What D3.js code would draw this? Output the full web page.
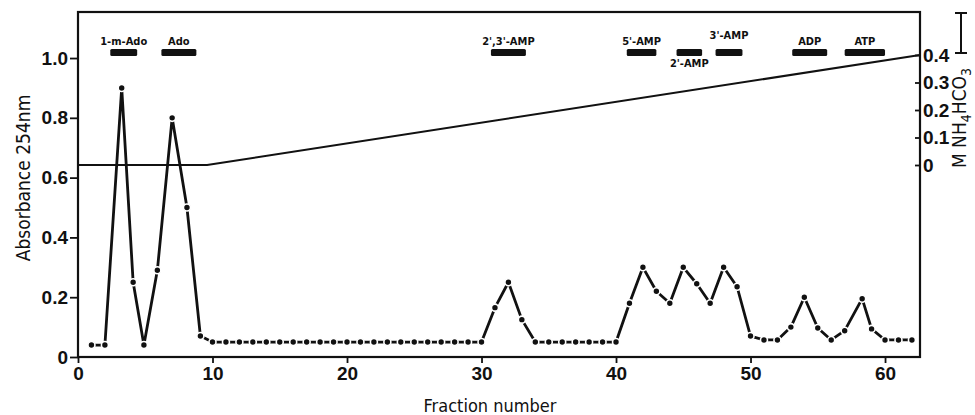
<!DOCTYPE html>
<html>
<head>
<meta charset="utf-8">
<script src="https://cdn.jsdelivr.net/npm/d3@7"></script>
<style>
  body { margin: 0; background: #fff; }
  svg { display: block; font-family: "DejaVu Sans Condensed", "DejaVu Sans", sans-serif; }
  .tick text { fill: #111; }
</style>
</head>
<body>
<div id="chart-area"></div>
<script>
var w = 975;
var h = 415;

// absorbance readings (fraction number, A254)
var fractions = [1, 2, 3.25, 4.1, 4.9, 5.9, 7, 8.1, 9.1, 10,
  11, 12, 13, 14, 15, 16, 17, 18, 19, 20, 21, 22, 23, 24, 25, 26, 27, 28, 29, 30,
  31, 32, 33, 34, 35, 36, 37, 38, 39, 40,
  41, 42, 43, 44, 45, 46, 47, 48, 49, 50,
  51, 52, 53, 54, 55, 56, 57, 58.3, 59, 60, 61, 62];
var absorbance = [0.04, 0.04, 0.90, 0.25, 0.04, 0.29, 0.80, 0.50, 0.07, 0.05,
  0.05, 0.05, 0.05, 0.05, 0.05, 0.05, 0.05, 0.05, 0.05, 0.05, 0.05, 0.05, 0.05, 0.05, 0.05, 0.05, 0.05, 0.05, 0.05, 0.05,
  0.165, 0.25, 0.125, 0.05, 0.05, 0.05, 0.05, 0.05, 0.05, 0.05,
  0.18, 0.30, 0.22, 0.18, 0.30, 0.245, 0.18, 0.30, 0.235, 0.07,
  0.057, 0.057, 0.10, 0.20, 0.097, 0.057, 0.088, 0.195, 0.094, 0.057, 0.057, 0.057];

// salt gradient (fraction, M NH4HCO3)
var gradFractions = [0, 9.6, 62.6];
var gradConc = [0, 0, 0.4];

// elution positions of the markers
var markerNames = ["1-m-Ado", "Ado", "2',3'-AMP", "5'-AMP", "2'-AMP", "3'-AMP", "ADP", "ATP"];
var markerStart = [2.4, 6.2, 30.7, 40.8, 44.5, 47.4, 53.1, 57.0];
var markerEnd = [4.4, 8.8, 33.3, 43.0, 46.4, 49.4, 55.7, 60.0];
var markerBelow = [false, false, false, false, true, false, false, false];
var markerUp = [false, false, false, false, false, true, false, false];

var leftTicks = [0, 0.2, 0.4, 0.6, 0.8, 1.0];
var rightTicks = [0, 0.1, 0.2, 0.3, 0.4];
var xTicks = [0, 10, 20, 30, 40, 50, 60];

var x0 = 78, x1 = 920, yTop = 12, yBot = 357;

var svg = d3.select('#chart-area').append('svg')
    .attr('width', w)
    .attr('height', h);

var x = d3.scaleLinear().domain([0, 62.6]).range([x0, x1]);
var y = d3.scaleLinear().domain([0, 1.154]).range([yBot, yTop]);
var y2 = d3.scaleLinear().domain([0, 0.4]).range([165, 55]);

var fmt = function(d){ return d === 0 ? "0" : d3.format(".1f")(d); };

// frame
svg.append('rect')
    .attr('x', x0).attr('y', yTop)
    .attr('width', x1 - x0).attr('height', yBot - yTop)
    .attr('fill', 'none').attr('stroke', '#111').attr('stroke-width', 2.2);

var xAxis = svg.append('g')
    .attr('transform', 'translate(0,' + yBot + ')')
    .call(d3.axisBottom(x).tickValues(xTicks).tickSize(6).tickPadding(4).tickFormat(d3.format('d')));
xAxis.selectAll('text').attr('font-size', 19).attr('font-weight', 'bold');

var yAxis = svg.append('g')
    .attr('transform', 'translate(' + x0 + ',0)')
    .call(d3.axisLeft(y).tickValues(leftTicks).tickSize(8).tickPadding(2).tickFormat(fmt));
yAxis.selectAll('text').attr('font-size', 19).attr('font-weight', 'bold');

var y2Axis = svg.append('g')
    .attr('transform', 'translate(' + x1 + ',0)')
    .call(d3.axisRight(y2).tickValues(rightTicks).tickSize(-5).tickPadding(3).tickFormat(fmt));
y2Axis.selectAll('text').attr('font-size', 19).attr('font-weight', 'bold');

svg.selectAll('.domain').remove();
svg.selectAll('.tick line').attr('stroke', '#111').attr('stroke-width', 1.8);

// gradient line
var grad = gradFractions.map(function(d, i){ return [d, gradConc[i]]; });
svg.append('path')
    .datum(grad)
    .attr('fill', 'none')
    .attr('stroke', '#111')
    .attr('stroke-width', 2)
    .attr('d', d3.line().x(function(d){ return x(d[0]); }).y(function(d){ return y2(d[1]); }));

// absorbance profile
var pts = fractions.map(function(d, i){ return [d, absorbance[i]]; });
svg.append('path')
    .datum(pts)
    .attr('fill', 'none')
    .attr('stroke', '#111')
    .attr('stroke-width', 2.8)
    .attr('stroke-linejoin', 'round')
    .attr('d', d3.line().x(function(d){ return x(d[0]); }).y(function(d){ return y(d[1]); }));

svg.append('g').selectAll('circle')
    .data(pts)
    .enter()
    .append('circle')
    .attr('cx', function(d){ return x(d[0]); })
    .attr('cy', function(d){ return y(d[1]); })
    .attr('r', 3.5)
    .attr('fill', '#111')
    .attr('stroke', '#fff')
    .attr('stroke-width', 1.6);

// markers
var markers = svg.append('g');
markerNames.forEach(function(name, i){
  var xs = x(markerStart[i]), xe = x(markerEnd[i]);
  markers.append('rect')
      .attr('x', xs).attr('y', 49)
      .attr('width', xe - xs).attr('height', 7)
      .attr('rx', 1.5)
      .attr('fill', '#111');
  var ty = markerBelow[i] ? 67 : (markerUp[i] ? 39 : 45);
  markers.append('text')
      .attr('x', (xs + xe) / 2)
      .attr('y', ty)
      .attr('text-anchor', 'middle')
      .attr('font-size', 11)
      .attr('font-weight', 'bold')
      .attr('fill', '#111')
      .text(name);
});

// axis titles
svg.append('text')
    .attr('transform', 'translate(30,178) rotate(-90)')
    .attr('text-anchor', 'middle')
    .attr('font-size', 19)
    .attr('fill', '#111')
    .text('Absorbance 254nm');

svg.append('text')
    .attr('x', 490)
    .attr('y', 412)
    .attr('text-anchor', 'middle')
    .attr('font-size', 18)
    .attr('fill', '#111')
    .text('Fraction number');

var rt = svg.append('text')
    .attr('transform', 'translate(966,118) rotate(-90)')
    .attr('text-anchor', 'middle')
    .attr('font-size', 19)
    .attr('fill', '#111');
rt.append('tspan').text('M NH');
rt.append('tspan').attr('font-size', 14).attr('dy', 5).text('4');
rt.append('tspan').attr('dy', -5).text('HCO');
rt.append('tspan').attr('font-size', 14).attr('dy', 5).text('3');

// line key for the gradient
var key = svg.append('g').attr('stroke', '#111').attr('stroke-width', 2);
key.append('line').attr('x1', 961).attr('x2', 961).attr('y1', 13).attr('y2', 53);
key.append('line').attr('x1', 955).attr('x2', 967).attr('y1', 13).attr('y2', 13);
key.append('line').attr('x1', 955).attr('x2', 967).attr('y1', 53).attr('y2', 53);
</script>
</body>
</html>
